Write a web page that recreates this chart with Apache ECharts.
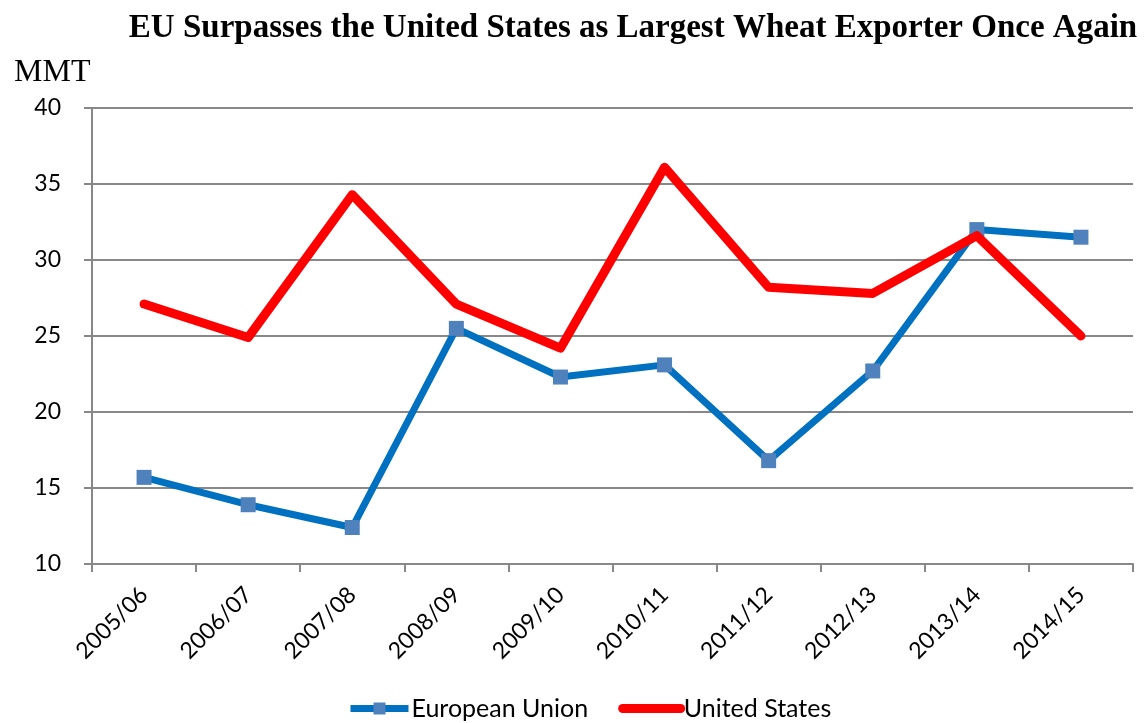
<!DOCTYPE html>
<html><head><meta charset="utf-8">
<script src="https://cdn.jsdelivr.net/npm/echarts@6/dist/echarts.min.js"></script>
<style>html,body{margin:0;padding:0;background:#fff}#c{width:1147px;height:723px}</style>
</head><body><div id="c"></div>
<script>
const categories = ['2005/06','2006/07','2007/08','2008/09','2009/10','2010/11','2011/12','2012/13','2013/14','2014/15'];
const euValues = [15.7, 13.9, 12.4, 25.5, 22.3, 23.1, 16.8, 22.7, 32.0, 31.5];
const usValues = [27.1, 24.9, 34.3, 27.1, 24.2, 36.1, 28.2, 27.8, 31.6, 25.0];
const yTicks = [10, 15, 20, 25, 30, 35, 40];

const chart = echarts.init(document.getElementById('c'));
const fam = 'Lato, "Open Sans", sans-serif';
chart.setOption({
  animation: false,
  title: {
    text: 'EU Surpasses the United States as Largest Wheat Exporter Once Again',
    left: 628, top: 7, textAlign: 'center',
    textStyle: {fontFamily: '"Liberation Serif", serif', fontWeight: 'bold', fontSize: 33, color: '#000'}
  },
  graphic: [{
    type: 'text', left: 14, top: 57,
    style: {text: 'MMT', font: '32px "Liberation Serif", serif', fill: '#000'}
  }],
  grid: {left: 92, right: 14, top: 108, bottom: 159, containLabel: false},
  legend: {
    top: 696, left: 347, padding: 0, itemWidth: 58, itemHeight: 15, itemGap: 30,
    textStyle: {fontFamily: fam, fontSize: 25, color: '#000', padding: [0, 0, 0, -2]},
    data: [
      {name: 'European Union', lineStyle: {width: 7}},
      {name: 'United States', lineStyle: {width: 9, cap: 'round'}, itemStyle: {opacity: 0}}
    ]
  },
  xAxis: {
    type: 'category', data: categories, boundaryGap: true,
    axisLine: {lineStyle: {color: '#888', width: 2}},
    axisTick: {show: true, length: 8, lineStyle: {color: '#888', width: 2}},
    axisLabel: {rotate: 45, margin: 27, interval: 0, fontFamily: fam, fontSize: 23, color: '#000'}
  },
  yAxis: {
    type: 'value', min: 10, max: 40, interval: 5,
    axisLine: {show: true, lineStyle: {color: '#888', width: 2}},
    axisTick: {show: true, length: 8, lineStyle: {color: '#888', width: 2}},
    splitLine: {lineStyle: {color: '#888', width: 2}},
    axisLabel: {margin: 31, fontFamily: fam, fontSize: 23, color: '#000', formatter: v => yTicks.includes(v) ? String(v) : ''}
  },
  series: [
    {
      name: 'European Union', type: 'line', data: euValues,
      symbol: 'rect', symbolSize: 15,
      lineStyle: {color: '#0070C0', width: 7},
      itemStyle: {color: '#4F81BD'},
      z: 2
    },
    {
      name: 'United States', type: 'line', data: usValues,
      symbol: 'none',
      lineStyle: {color: '#FF0000', width: 9, cap: 'round', join: 'round'},
      itemStyle: {color: '#FF0000'},
      z: 3
    }
  ]
});
</script></body></html>
